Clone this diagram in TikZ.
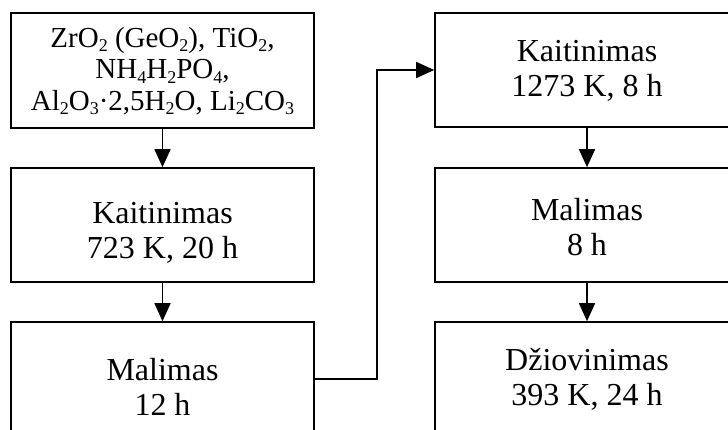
\documentclass[tikz,border=0pt]{standalone}
\usepackage{fontspec}
\setmainfont{Liberation Serif}
\usetikzlibrary{arrows.meta}
% lowered, smaller digits for chemical formulas
\newcommand{\chemsub}[1]{\raisebox{-0.17em}{\fontsize{18}{18}\selectfont #1}}
\begin{document}
\begin{tikzpicture}[x=1pt,y=-1pt,
  procbox/.style={draw, line width=1.6pt, inner sep=0pt,
    minimum width=303pt, minimum height=114pt},
  boxtext/.style={inner sep=0pt, align=center, font=\fontsize{32}{35}\selectfont},
  flow/.style={line width=1.6pt, -{Triangle[length=18pt,width=16pt]}}]
\useasboundingbox (0,0) rectangle (728,430);
\clip (0,0) rectangle (728,430);
\fill[white] (0,0) rectangle (728,430);

% left column
\node[procbox, minimum height=115pt] (raw) at (162.5,70.5) {};
\node[procbox] (heat1) at (162.5,225) {};
\node[procbox] (mill1) at (162.5,379) {};
\node[boxtext, font=\fontsize{29}{31.5}\selectfont] (rawtext) at (162.5,71)
  {ZrO\chemsub{2} (GeO\chemsub{2}), TiO\chemsub{2},\\
   NH\chemsub{4}H\chemsub{2}PO\chemsub{4},\\
   Al\chemsub{2}O\chemsub{3}·2,5H\chemsub{2}O, Li\chemsub{2}CO\chemsub{3}};
\node[boxtext] (heat1text) at (162.5,233) {Kaitinimas\\723 K, 20 h};
\node[boxtext] (mill1text) at (162.5,387) {Malimas\\12 h};

% right column
\node[procbox, minimum width=304pt] (heat2) at (587,70) {};
\node[procbox, minimum width=304pt] (mill2) at (587,225) {};
\node[procbox, minimum width=304pt] (dry) at (587,379) {};
\node[boxtext] (heat2text) at (587,71) {Kaitinimas\\1273 K, 8 h};
\node[boxtext] (mill2text) at (587,227) {Malimas\\8 h};
\node[boxtext] (drytext) at (587,379) {Džiovinimas\\393 K, 24 h};

% connectors
\coordinate (bendA) at (377,379);
\coordinate (bendB) at (377,70);
\draw[flow] (raw) -- (heat1);
\draw[flow] (heat1) -- (mill1);
\draw[flow] (mill1.east) -- (bendA) -- (bendB) -- (heat2.west);
\draw[flow] (heat2) -- (mill2);
\draw[flow] (mill2) -- (dry);
\end{tikzpicture}
\end{document}
